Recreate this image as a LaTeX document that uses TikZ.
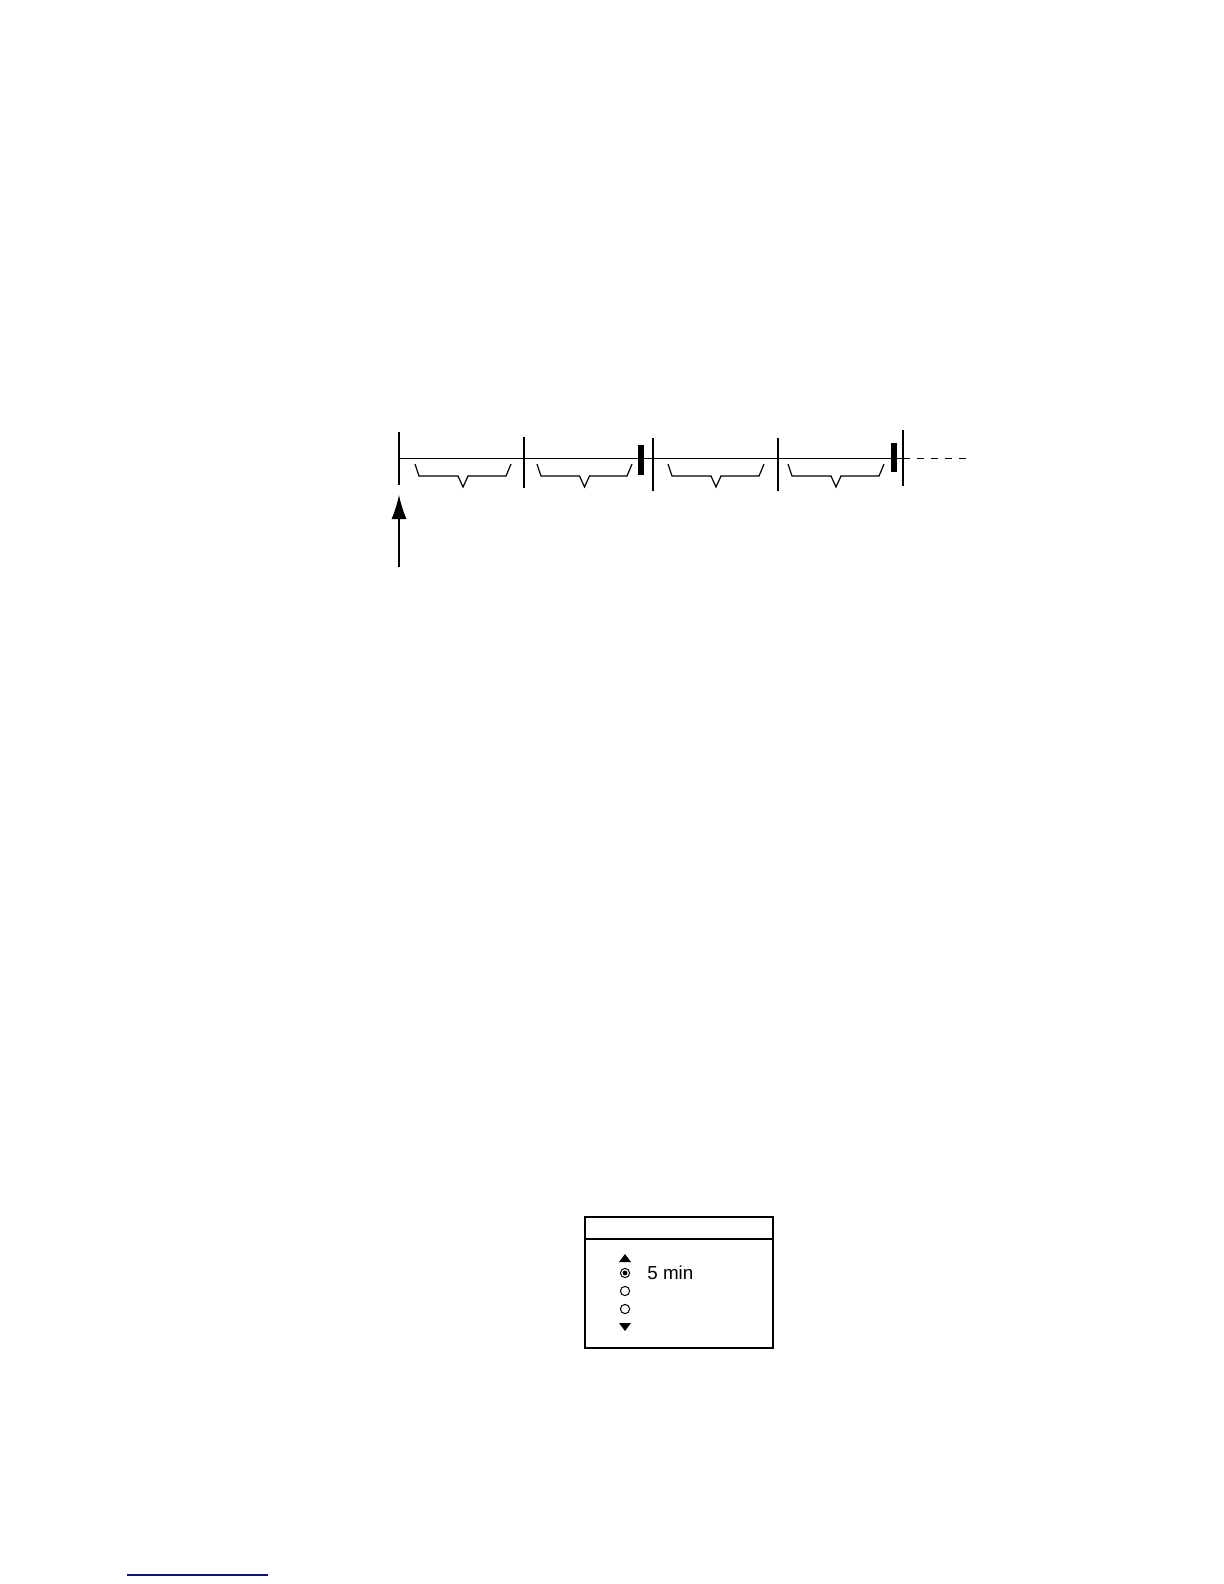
\documentclass[tikz,border=0pt]{standalone}
\usepackage{fontspec}
\setmainfont{Liberation Sans}
\usetikzlibrary{arrows.meta,positioning}

\tikzset{
  tick/.style={line width=0.6pt},
  bar/.style={fill=black, draw=none},
  radio/.style={circle, draw, line width=0.5pt, inner sep=0pt, minimum size=4.6pt},
}

\begin{document}
\begin{tikzpicture}[x=0.5pt, y=-0.5pt, >=Latex]
        \useasboundingbox (0,0) rectangle (1224,1584);

        % time axis
        \coordinate (t0) at (399,458.5);
        \coordinate (tend) at (903,458.5);
        \draw[tick] (t0) -- (tend);
        \draw[tick, dashed, dash pattern=on 3.5pt off 3.5pt] (tend) -- (966,458.5);

        % vertical ticks
        \draw[tick] (399,432) coordinate (a0) -- (399,485) coordinate (b0);
        \draw[tick] (524,437) -- (524,488);
        \draw[tick] (653,438) -- (653,491);
        \draw[tick] (778,438) -- (778,491);
        \draw[tick] (903,430) -- (903,486);

        % black bars
        \fill[bar] (638,445) rectangle (644,475);
        \fill[bar] (891,443) rectangle (897,472);

        % braces under each interval
        \foreach \l/\r in {415/511, 537/632, 668/764, 788/884}{
          \pgfmathsetmacro{\m}{(\l+\r)/2}
          \draw[tick] (\l,464) -- (\l+4,476) -- (\m-5,476) -- (\m,487)
            -- (\m+5,476) -- (\r-5,476) -- (\r,464);
        }

        % start arrow
        \coordinate (s) at (399,567);
        \draw[->, line width=0.6pt, >={Latex[length=12pt,width=7.5pt]}] (s) -- (399,495);

        % menu box
        \draw[line width=1pt] (585,1217) rectangle (773,1348);
        \draw[line width=0.6pt] (585,1239) -- (773,1239);

        \fill (625,1254) -- (631,1262) -- (619,1262) -- cycle;
        \node[radio] (r1) at (625,1273) {};
        \fill (r1) circle (1.2pt);
        \node[radio] (r2) at (625,1291) {};
        \node[radio] (r3) at (625,1309) {};
        \fill (619,1323) -- (631,1323) -- (625,1331) -- cycle;
        \node[anchor=west, inner sep=0pt, font=\fontsize{9.4}{11}\selectfont] (sel) at (647,1273) {5 min};

        % blue rule at page foot
        \draw[line width=0.8pt, color={rgb,255:red,20;green,20;blue,120}] (127,1575) -- (268,1575);
    \end{tikzpicture}
\end{document}
